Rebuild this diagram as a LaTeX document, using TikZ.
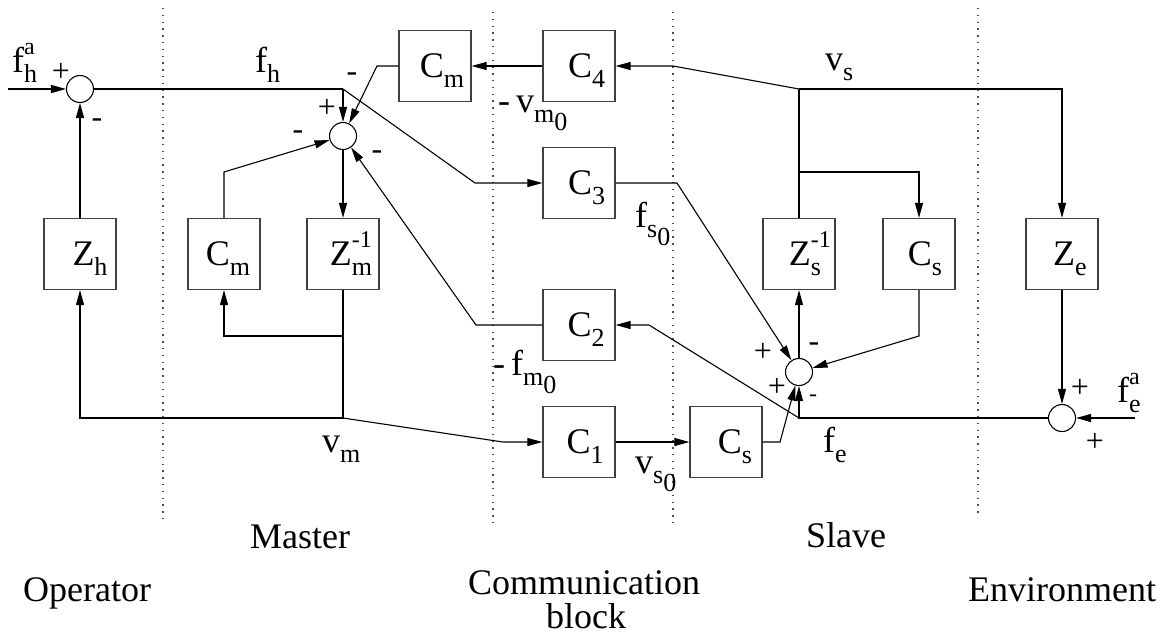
\documentclass[tikz,border=0pt]{standalone}
\usepackage{fontspec}
\setmainfont{Liberation Serif}
\usetikzlibrary{arrows.meta}
\newcommand{\lsub}[1]{\raisebox{-0.3em}{\fontsize{26}{26}\selectfont #1}}
\newcommand{\hsup}[1]{\raisebox{0.5em}{\fontsize{24}{24}\selectfont #1}}
\begin{document}
\begin{tikzpicture}[x=1pt,y=-1pt,
  every node/.style={font=\fontsize{36}{40}\selectfont, inner sep=0pt},
  blk/.style={draw=black!75, line width=1.2pt, minimum width=72pt, minimum height=71pt, inner sep=0pt, text height=24pt, text depth=2pt},
  sum/.style={circle, draw, line width=1.1pt, minimum size=27pt, inner sep=0pt},
  ln/.style={line width=1.1pt},
  arr/.style={ln, -{Triangle[length=15pt,width=8pt]}},
  sep/.style={draw=black!70, line width=1.3pt, dash pattern=on 1.3pt off 5.5pt},
  sgn/.style={font=\fontsize{32}{32}\selectfont},
  lab/.style={anchor=base west},
]
\useasboundingbox (0,0) rectangle (1164,635);

% separators
\draw[sep] (163,8) -- (163,522);
\draw[sep] (493,12) -- (493,525);
\draw[sep] (673,12) -- (673,523);
\draw[sep] (978,8) -- (978,518);

% summing junctions
\node[sum] (s1) at (80,89) {};
\node[sum] (s2) at (343,136) {};
\node[sum] (s3) at (799,372) {};
\node[sum] (s4) at (1062,418) {};

% blocks
\node[blk] (Cmt) at (435,66) {\kern14pt C\lsub{m}};
\node[blk] (C4) at (579,66) {\kern15pt C\lsub{4}};
\node[blk] (C3) at (579,183) {\kern15pt C\lsub{3}};
\node[blk] (C2) at (579,325) {\kern14pt C\lsub{2}};
\node[blk] (C1) at (579,442) {\kern12pt C\lsub{1}};
\node[blk] (Css) at (726,442) {\kern18pt C\lsub{s}};
\node[blk] (Zh) at (80,254) {\kern20pt Z\lsub{h}};
\node[blk] (Cmm) at (224,254) {\kern8pt C\lsub{m}};
\node[blk] (Zm) at (343,254) {\kern16pt Z\rlap{\hsup{-1}}\lsub{m}};
\node[blk] (Zs) at (799,254) {\kern12pt Z\rlap{\hsup{-1}}\lsub{s}};
\node[blk] (Cs) at (919,254) {\kern12pt C\lsub{s}};
\node[blk] (Ze) at (1062,254) {\kern16pt Z\lsub{e}};

% coordinates
\coordinate (in1) at (8,89);
\coordinate (fh) at (343,89);
\coordinate (fhd) at (475,183);
\coordinate (cmk) at (377,66);
\coordinate (vs) at (799,89);
\coordinate (vsk) at (673,66);
\coordinate (vse) at (1062,89);
\coordinate (vsb) at (799,172);
\coordinate (vsc) at (919,172);
\coordinate (csk) at (919,336);
\coordinate (cmmk) at (224,172);
\coordinate (vm) at (343,418);
\coordinate (vmh) at (80,418);
\coordinate (vmc) at (343,336);
\coordinate (vmcc) at (224,336);
\coordinate (vmk) at (503,442);
\coordinate (cssk) at (780,442);
\coordinate (fe) at (799,418);
\coordinate (fek) at (649,325);
\coordinate (c2k) at (476,325);
\coordinate (c3k) at (677,183);
\coordinate (in4) at (1135,418);

% connectors
\draw[arr] (in1) -- (s1);
\draw[ln] (s1) -- (fh);
\draw[arr] (fh) -- (s2);
\draw[arr] (fh) -- (fhd) -- (C3);
\draw[arr] (C4) -- (Cmt);
\draw[arr] (Cmt) -- (cmk) -- (s2);
\draw[arr] (vs) -- (vsk) -- (C4);
\draw[arr] (vs) -- (vse) -- (Ze);
\draw[ln] (vs) -- (Zs);
\draw[arr] (vsb) -- (vsc) -- (Cs);
\draw[arr] (Cs) -- (csk) -- (s3);
\draw[arr] (Zh) -- (s1);
\draw[arr] (Cmm) -- (cmmk) -- (s2);
\draw[arr] (s2) -- (Zm);
\draw[arr] (Zm) -- (vm) -- (vmh) -- (Zh);
\draw[arr] (vmc) -- (vmcc) -- (Cmm);
\draw[arr] (vm) -- (vmk) -- (C1);
\draw[arr] (C1) -- (Css);
\draw[arr] (Css) -- (cssk) -- (s3);
\draw[arr] (s4) -- (fe) -- (s3);
\draw[arr] (fe) -- (fek) -- (C2);
\draw[arr] (C2) -- (c2k) -- (s2);
\draw[arr] (C3) -- (c3k) -- (s3);
\draw[arr] (s3) -- (Zs);
\draw[arr] (in4) -- (s4);
\draw[arr] (Ze) -- (s4);

% signal labels
\node[lab] (lfha) at (12,72) {f\rlap{\hsup{a}}\lsub{h}};
\node[lab] (lfh) at (255,72) {f\lsub{h}};
\node[lab] (lvm0) at (498,112) {-\,v\lsub{m\lsub{0}}};
\node[lab] (lvs) at (825,70) {v\lsub{s}};
\node[lab] (lfs0) at (635,227) {f\lsub{s\lsub{0}}};
\node[lab] (lfm0) at (493,375) {-\,f\lsub{m\lsub{0}}};
\node[lab] (lvmm) at (322,452) {v\lsub{m}};
\node[lab] (lvs0) at (635,473) {v\lsub{s\lsub{0}}};
\node[lab] (lfe) at (823,452) {f\lsub{e}};
\node[lab] (lfea) at (1117,402) {f\rlap{\hsup{a}}\lsub{e}};

% signs
\node[sgn] (p1) at (61,72) {+};
\node[sgn] (m1) at (97,123) {-};
\node[sgn] (p2) at (327,108) {+};
\node[sgn] (m2a) at (352,77) {-};
\node[sgn] (m2b) at (298,135) {-};
\node[sgn] (m2c) at (377,155) {-};
\node[sgn] (p3a) at (763,352) {+};
\node[sgn] (m3a) at (814,347) {-};
\node[sgn] (p3b) at (777,387) {+};
\node[sgn, font=\fontsize{24}{24}\selectfont] (m3b) at (813,398) {-};
\node[sgn] (p4a) at (1080,388) {+};
\node[sgn] (p4b) at (1095,442) {+};

% section labels
\node[lab] (tmaster) at (250,548) {Master};
\node[lab] (tslave) at (806,547) {Slave};
\node[lab] (toper) at (23,601) {Operator};
\node[lab] (tcomm) at (468,594) {Communication};
\node[lab] (tblock) at (546,628) {block};
\node[lab] (tenv) at (968,601) {Environment};
\end{tikzpicture}
\end{document}
